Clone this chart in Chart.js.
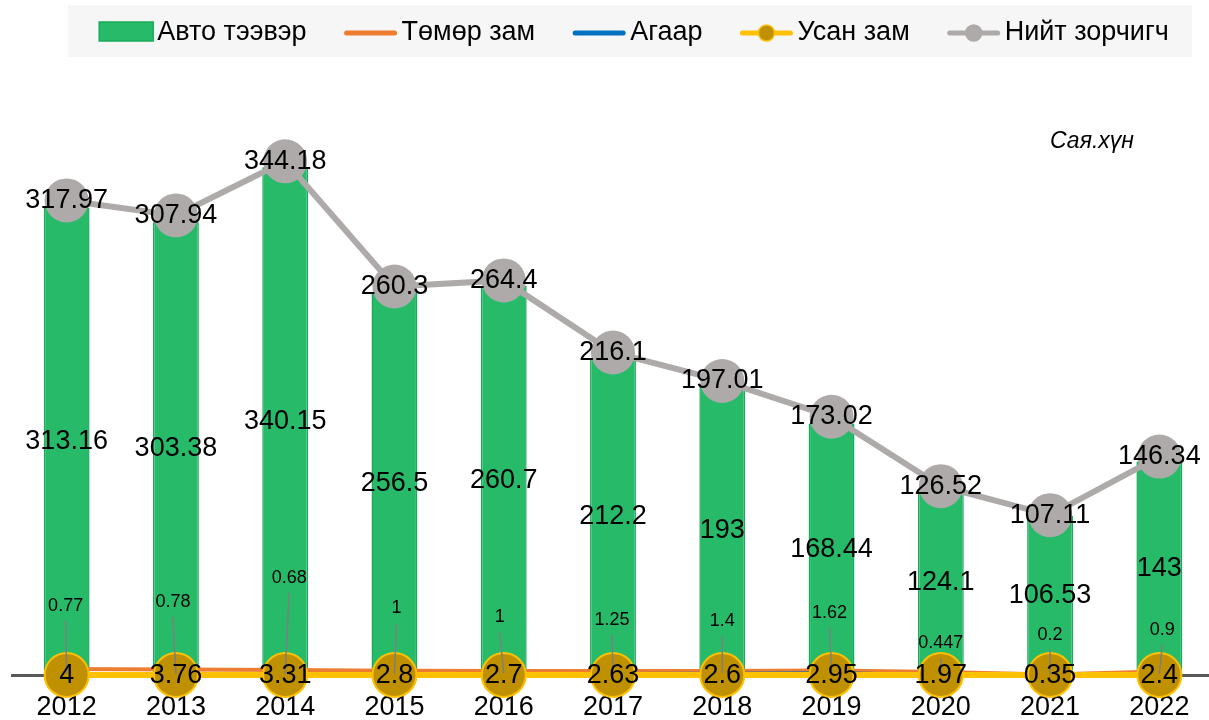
<!DOCTYPE html>
<html>
<head>
<meta charset="utf-8">
<script src="https://cdn.jsdelivr.net/npm/chart.js@4/dist/chart.umd.min.js"></script>
<style>
  html, body { margin: 0; padding: 0; background: #fff; overflow: hidden; width: 1209px; height: 720px; }
  #wrap { width: 1214px; height: 720px; }
  canvas { display: block; }
</style>
</head>
<body>
<div id="wrap"><canvas id="c" width="1214" height="720"></canvas></div>
<script>
// ---- data ----
const years = ['2012','2013','2014','2015','2016','2017','2018','2019','2020','2021','2022'];
const autoTransport = [313.16, 303.38, 340.15, 256.5, 260.7, 212.2, 193, 168.44, 124.1, 106.53, 143];
const railway = [4, 3.76, 3.31, 2.8, 2.7, 2.63, 2.6, 2.95, 1.97, 0.35, 2.4];
const air = [0.77, 0.78, 0.68, 1, 1, 1.25, 1.4, 1.62, 0.447, 0.2, 0.9];
const water = [0.04, 0.02, 0.04, 0.01, 0.01, 0.02, 0.01, 0.01, 0.01, 0.03, 0.04];
const totalPassengers = [317.97, 307.94, 344.18, 260.3, 264.4, 216.1, 197.01, 173.02, 126.52, 107.11, 146.34];
const seriesNames = ['Авто тээвэр', 'Төмөр зам', 'Агаар', 'Усан зам', 'Нийт зорчигч'];
const unitLabel = 'Сая.хүн';

// ---- label layout (pixels) for the small air labels ----
const airLabelLift = [68, 72, 96, 65, 56, 53, 52, 60, 31, 40, 44];
const airLabelShift = [-1, -3, 4, 2, -4, -1, 0, -2, 0, 0, 3];

const FONT = '"Liberation Sans", Arial, sans-serif';
const COLORS = { bar: '#27bb69', barBorder: '#1aab5a', rail: '#ed7d31', air: '#0070c0', water: '#ffc000', waterPt: '#bf9000', total: '#aeaaaa' };

const labelPlugin = {
  id: 'labels',
  afterDatasetsDraw(chart) {
    const ctx = chart.ctx;
    ctx.save();
    ctx.textAlign = 'center';
    ctx.textBaseline = 'middle';
    ctx.fillStyle = '#000';
    ctx.font = '27px ' + FONT;
    chart.getDatasetMeta(0).data.forEach((el, i) => {
      ctx.fillText(String(autoTransport[i]), el.x, (el.y + el.base) / 2);
    });
    const airMeta = chart.getDatasetMeta(2).data;
    ctx.strokeStyle = '#7f7f7f';
    ctx.lineWidth = 1.5;
    airMeta.forEach((el, i) => {
      const lx = el.x + airLabelShift[i];
      const ly = el.y - airLabelLift[i];
      ctx.beginPath();
      ctx.moveTo(lx, ly + 15);
      ctx.lineTo(el.x, el.y);
      ctx.stroke();
    });
    ctx.font = '27px ' + FONT;
    chart.getDatasetMeta(3).data.forEach((el, i) => {
      ctx.fillText(String(railway[i]), el.x, el.y + 1);
    });
    ctx.font = '18px ' + FONT;
    airMeta.forEach((el, i) => {
      ctx.fillText(String(air[i]), el.x + airLabelShift[i], el.y - airLabelLift[i]);
    });
    ctx.font = '27px ' + FONT;
    chart.getDatasetMeta(4).data.forEach((el, i) => {
      ctx.fillText(String(totalPassengers[i]), el.x, el.y);
    });
    ctx.restore();
  },
  afterDraw(chart) {
    const ctx = chart.ctx;
    ctx.save();
    ctx.fillStyle = '#f6f6f6';
    ctx.fillRect(68, 5, 1124, 52);
    ctx.font = '27px ' + FONT;
    ctx.textBaseline = 'middle';
    ctx.textAlign = 'left';
    const markerW = 54, gapText = 4, gapItem = 37;
    const widths = seriesNames.map(n => markerW + gapText + ctx.measureText(n).width);
    const total = widths.reduce((a, b) => a + b, 0) + gapItem * (seriesNames.length - 1);
    let x = 634 - total / 2;
    const cy = 32;
    seriesNames.forEach((name, i) => {
      if (i === 0) {
        ctx.fillStyle = COLORS.bar; ctx.strokeStyle = COLORS.barBorder; ctx.lineWidth = 1.5;
        ctx.fillRect(x, cy - 10, markerW, 19); ctx.strokeRect(x, cy - 10, markerW, 19);
      } else {
        const col = [null, COLORS.rail, COLORS.air, COLORS.water, COLORS.total][i];
        ctx.strokeStyle = col; ctx.lineWidth = 5; ctx.lineCap = 'round';
        ctx.beginPath(); ctx.moveTo(x + 3, cy + 1); ctx.lineTo(x + markerW - 3, cy + 1); ctx.stroke();
        if (i >= 3) {
          ctx.beginPath(); ctx.arc(x + markerW / 2, cy + 1, 8, 0, Math.PI * 2);
          ctx.fillStyle = i === 3 ? COLORS.waterPt : COLORS.total; ctx.fill();
          ctx.lineWidth = 1.5; ctx.strokeStyle = col; ctx.stroke();
        }
      }
      ctx.fillStyle = '#000';
      ctx.fillText(name, x + markerW + gapText, cy + 1);
      x += widths[i] + gapItem;
    });
    ctx.font = 'italic 23px ' + FONT;
    ctx.fillText(unitLabel, 1050, 142);
    ctx.restore();
  }
};

new Chart(document.getElementById('c'), {
  type: 'bar',
  data: {
    labels: years,
    datasets: [
      { type: 'bar', label: seriesNames[0], data: autoTransport, backgroundColor: COLORS.bar, borderColor: COLORS.barBorder, borderWidth: 1.5, barPercentage: 0.42, categoryPercentage: 1, order: 5 },
      { type: 'line', label: seriesNames[1], data: railway, borderColor: COLORS.rail, borderWidth: 4, pointRadius: 0, order: 4, clip: false },
      { type: 'line', label: seriesNames[2], data: air, borderColor: COLORS.air, borderWidth: 2.5, pointRadius: 0, order: 3, clip: false },
      { type: 'line', label: seriesNames[3], data: water, borderColor: COLORS.water, borderWidth: 6, pointRadius: 22, pointBackgroundColor: COLORS.waterPt, pointBorderColor: COLORS.water, pointBorderWidth: 2, order: 2, clip: false },
      { type: 'line', label: seriesNames[4], data: totalPassengers, borderColor: COLORS.total, borderWidth: 6, pointRadius: 22, pointBackgroundColor: COLORS.total, pointBorderColor: COLORS.total, pointBorderWidth: 0, order: 1, clip: false }
    ]
  },
  options: {
    responsive: false,
    animation: false,
    layout: { autoPadding: false, padding: { top: 78, left: 12, right: 0, bottom: -20 } },
    plugins: { legend: { display: false }, tooltip: { enabled: false } },
    scales: {
      x: {
        grid: { display: false, drawTicks: false },
        border: { display: true, color: '#595959', width: 3 },
        ticks: { color: '#000', font: { size: 27, family: FONT, lineHeight: 1 }, padding: 19, maxRotation: 0 }
      },
      y: { display: false, min: 0, max: 400 }
    }
  },
  plugins: [labelPlugin]
});
</script>
</body>
</html>
